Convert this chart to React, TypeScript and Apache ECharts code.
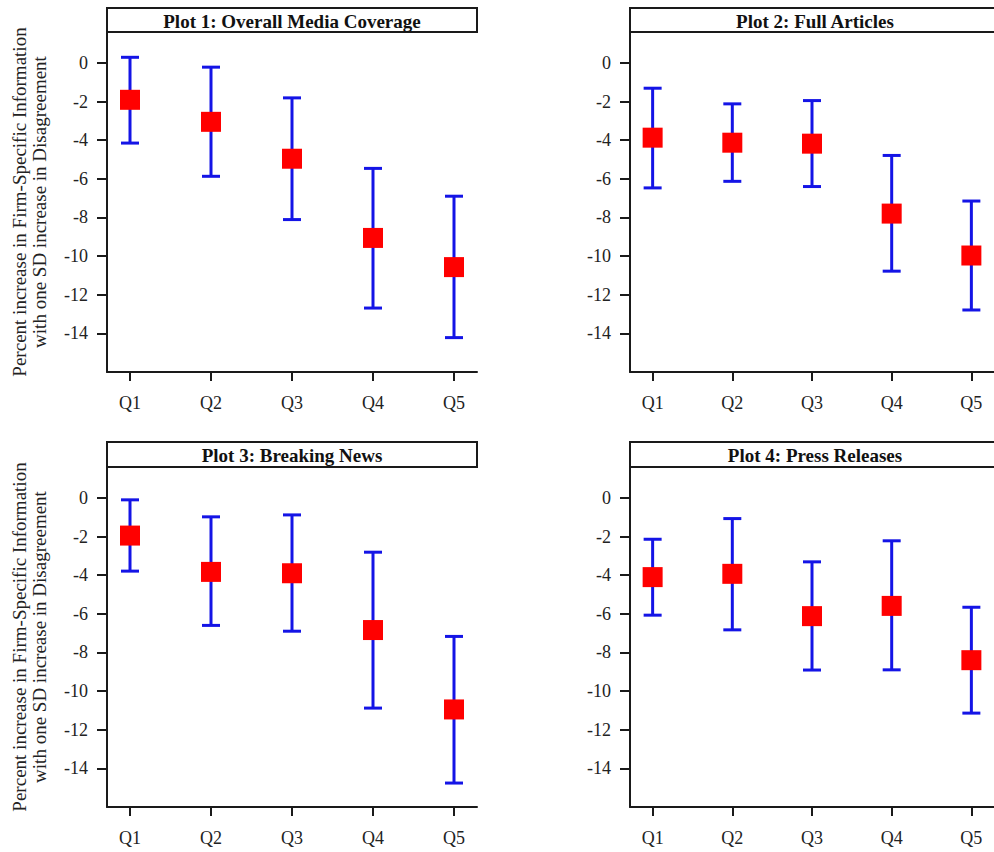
import React, { useEffect, useRef } from "react";
import * as echarts from "echarts";

const categories = ["Q1", "Q2", "Q3", "Q4", "Q5"];
const panelTitles = [
  "Plot 1: Overall Media Coverage",
  "Plot 2: Full Articles",
  "Plot 3: Breaking News",
  "Plot 4: Press Releases",
];
const yTicks = [0, -2, -4, -6, -8, -10, -12, -14];

const p1Mean = [-1.91, -3.05, -4.96, -9.06, -10.57];
const p1Lower = [-4.15, -5.87, -8.11, -12.69, -14.22];
const p1Upper = [0.29, -0.22, -1.81, -5.46, -6.9];

const p2Mean = [-3.87, -4.13, -4.18, -7.8, -9.97];
const p2Lower = [-6.47, -6.13, -6.4, -10.78, -12.79];
const p2Upper = [-1.31, -2.12, -1.95, -4.79, -7.15];

const p3Mean = [-1.95, -3.83, -3.9, -6.84, -10.95];
const p3Lower = [-3.79, -6.6, -6.9, -10.88, -14.76];
const p3Upper = [-0.1, -0.98, -0.88, -2.81, -7.17];

const p4Mean = [-4.1, -3.93, -6.12, -5.59, -8.4];
const p4Lower = [-6.07, -6.83, -8.91, -8.9, -11.14];
const p4Upper = [-2.14, -1.07, -3.31, -2.22, -5.66];

const panels = [
  { mean: p1Mean, lower: p1Lower, upper: p1Upper },
  { mean: p2Mean, lower: p2Lower, upper: p2Upper },
  { mean: p3Mean, lower: p3Lower, upper: p3Upper },
  { mean: p4Mean, lower: p4Lower, upper: p4Upper },
];

const yTitle = "Percent increase in Firm-Specific Information\nwith one SD increase in Disagreement";

const FONT = "Liberation Serif";
const BLUE = "#1414E6";
const RED = "#FF0000";
const AXIS = "#1a1a1a";

export default function App() {
  const ref = useRef<HTMLDivElement>(null);

  useEffect(() => {
    document.body.style.margin = "0";
    const chart = echarts.init(ref.current!, null, { renderer: "svg" });

    const layout = [
      { left: 107, top: 32, titleTop: 8 },
      { left: 630, top: 32, titleTop: 8 },
      { left: 107, top: 467, titleTop: 442 },
      { left: 630, top: 467, titleTop: 442 },
    ];
    const W = 370;
    const H = 340;

    const grid = layout.map((l) => ({ left: l.left, top: l.top, width: W, height: H }));

    const xAxis = layout.map((_, i) => ({
      type: "value",
      gridIndex: i,
      min: 0.716,
      max: 5.284,
      splitLine: { show: false },
      axisLine: { show: true, onZero: false, lineStyle: { color: AXIS, width: 2 } },
      axisTick: {
        show: true,
        customValues: categories.map((_, k) => k + 1),
        length: 9,
        lineStyle: { color: AXIS, width: 2 },
      },
      axisLabel: {
        customValues: categories.map((_, k) => k + 1),
        formatter: (v: number) => categories[Math.round(v) - 1] ?? "",
        margin: 22,
        fontFamily: FONT,
        fontSize: 18,
        color: "#222",
      },
    }));

    const yAxis = layout.map((_, i) => ({
      type: "value",
      gridIndex: i,
      min: -16,
      max: 1.6,
      splitLine: { show: false },
      axisLine: { show: true, onZero: false, lineStyle: { color: AXIS, width: 2 } },
      axisTick: {
        show: true,
        customValues: yTicks,
        length: 10,
        lineStyle: { color: AXIS, width: 2 },
      },
      axisLabel: {
        customValues: yTicks,
        margin: 19,
        fontFamily: FONT,
        fontSize: 18,
        color: "#222",
      },
      name: i % 2 === 0 ? yTitle : "",
      nameLocation: "middle",
      nameRotate: 90,
      nameGap: 58,
      nameTextStyle: { fontFamily: FONT, fontSize: 19, color: "#222", lineHeight: 20 },
    }));

    const series: any[] = [];
    panels.forEach((p, i) => {
      series.push({
        type: "custom",
        xAxisIndex: i,
        yAxisIndex: i,
        data: p.mean.map((_, k) => [k + 1, p.lower[k], p.upper[k]]),
        encode: { x: 0, y: [1, 2] },
        renderItem: (params: any, api: any) => {
          const x = api.value(0);
          const pHi = api.coord([x, api.value(2)]);
          const pLo = api.coord([x, api.value(1)]);
          const w = 9;
          const style = { stroke: BLUE, lineWidth: 3 };
          return {
            type: "group",
            children: [
              { type: "line", shape: { x1: pHi[0], y1: pHi[1], x2: pLo[0], y2: pLo[1] }, style },
              { type: "line", shape: { x1: pHi[0] - w, y1: pHi[1], x2: pHi[0] + w, y2: pHi[1] }, style },
              { type: "line", shape: { x1: pLo[0] - w, y1: pLo[1], x2: pLo[0] + w, y2: pLo[1] }, style },
            ],
          };
        },
        z: 2,
      });
      series.push({
        type: "scatter",
        xAxisIndex: i,
        yAxisIndex: i,
        data: p.mean.map((v, k) => [k + 1, v]),
        symbol: "rect",
        symbolSize: 20,
        itemStyle: { color: RED, opacity: 1 },
        z: 3,
      });
    });

    const graphic: any[] = [];
    layout.forEach((l, i) => {
      graphic.push({
        type: "rect",
        shape: { x: l.left, y: l.titleTop, width: W, height: l.top - l.titleTop },
        style: { fill: "#fff", stroke: AXIS, lineWidth: 2 },
      });
      graphic.push({
        type: "text",
        x: l.left + W / 2,
        y: l.titleTop + (l.top - l.titleTop) / 2 + 1,
        style: {
          text: panelTitles[i],
          fontFamily: FONT,
          fontWeight: "bold",
          fontSize: 19,
          fill: "#111",
          textAlign: "center",
          textVerticalAlign: "middle",
        },
      });
    });

    chart.setOption({
      animation: false,
      backgroundColor: "#fff",
      grid,
      xAxis,
      yAxis,
      series,
      graphic,
    });

    return () => chart.dispose();
  }, []);

  return (
    <div
      ref={ref}
      style={{ position: "absolute", left: 0, top: 0, width: 994, height: 852 }}
    />
  );
}
